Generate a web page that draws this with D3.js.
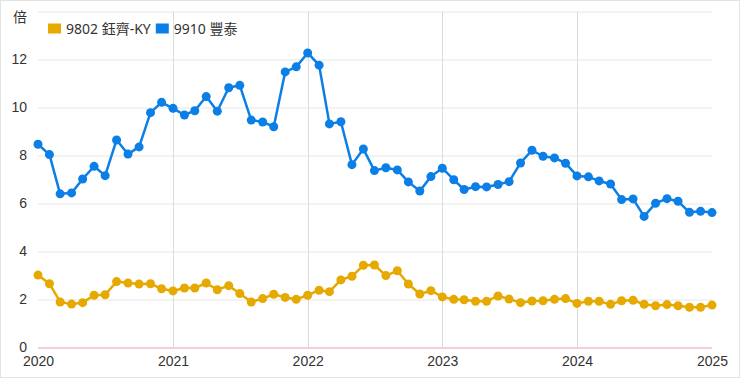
<!DOCTYPE html>
<html>
<head>
<meta charset="utf-8">
<script src="https://cdn.jsdelivr.net/npm/d3@7"></script>
<style>
  body { margin: 0; background: #fff; }
  svg { display: block; font-family: "Noto Sans", "Noto Sans CJK TC", sans-serif; }
</style>
</head>
<body>
<div class="chart"></div>
<script>
// monthly PE ratio, Jan 2020 .. Jan 2025
var startMonth = new Date(2020, 0, 1);
var yearTicks = [2020, 2021, 2022, 2023, 2024, 2025];
var yTicks = [0, 2, 4, 6, 8, 10, 12];
var seriesNames = ["9802 鈺齊-KY", "9910 豐泰"];
var seriesColors = ["#e6a900", "#0b7fe6"];

var yuChi = [3.00, 2.64, 1.88, 1.79, 1.85, 2.16, 2.18, 2.73, 2.67, 2.63, 2.64, 2.43,
  2.34, 2.46, 2.46, 2.67, 2.39, 2.56, 2.23, 1.88, 2.02, 2.20, 2.07, 1.99,
  2.16, 2.37, 2.31, 2.80, 2.95, 3.41, 3.42, 2.98, 3.18, 2.63, 2.21, 2.35,
  2.09, 1.99, 1.97, 1.91, 1.91, 2.13, 2.00, 1.85, 1.92, 1.93, 1.99, 2.02,
  1.82, 1.91, 1.91, 1.78, 1.93, 1.95, 1.78, 1.72, 1.77, 1.72, 1.66, 1.66,
  1.75];
var fengTai = [8.46, 8.03, 6.39, 6.43, 7.01, 7.54, 7.15, 8.64, 8.05, 8.35, 9.78, 10.21,
  9.96, 9.68, 9.86, 10.45, 9.84, 10.82, 10.92, 9.47, 9.39, 9.19, 11.48, 11.69,
  12.27, 11.76, 9.31, 9.40, 7.61, 8.26, 7.36, 7.48, 7.39, 6.89, 6.51, 7.11,
  7.46, 6.98, 6.57, 6.69, 6.68, 6.78, 6.90, 7.68, 8.21, 7.96, 7.89, 7.67,
  7.14, 7.10, 6.93, 6.80, 6.15, 6.18, 5.45, 6.00, 6.19, 6.08, 5.62, 5.66,
  5.61];

var W = 740, H = 378;
var margin = {top: 11.5, right: 28, bottom: 31, left: 38};
var width = W - margin.left - margin.right,
    height = H - margin.top - margin.bottom;

var x = d3.scaleTime()
  .domain([new Date(2020, 0, 1), new Date(2025, 0, 1)])
  .range([0, width]);
var y = d3.scaleLinear()
  .domain([0, 14])
  .range([height, 0]);

function monthDate(i) { return d3.timeMonth.offset(startMonth, i); }

var svg = d3.select(".chart").append("svg")
  .attr("width", W)
  .attr("height", H);

// outer frame
svg.append("rect")
  .attr("x", 0.5).attr("y", 0.5)
  .attr("width", W - 1).attr("height", H - 1)
  .attr("fill", "none")
  .attr("stroke", "#e3e3e3");

var g = svg.append("g")
  .attr("transform", "translate(" + margin.left + "," + margin.top + ")");

// horizontal grid
g.selectAll(".hgrid")
  .data([2, 4, 6, 8, 10, 12, 14])
  .enter().append("line")
  .attr("x1", 0).attr("x2", width)
  .attr("y1", d => Math.round(y(d)) + 0.5)
  .attr("y2", d => Math.round(y(d)) + 0.5)
  .attr("stroke", "#e6e6e6");

// vertical year lines
g.selectAll(".vgrid")
  .data(yearTicks.slice(1, -1))
  .enter().append("line")
  .attr("x1", d => Math.round(x(new Date(d, 0, 1))) + 0.5)
  .attr("x2", d => Math.round(x(new Date(d, 0, 1))) + 0.5)
  .attr("y1", y(14)).attr("y2", height)
  .attr("stroke", "#dcdcdc");

// zero line
g.append("line")
  .attr("x1", 0).attr("x2", width)
  .attr("y1", Math.round(y(0)) + 0.5).attr("y2", Math.round(y(0)) + 0.5)
  .attr("stroke", "#f2bcc6")
  .attr("stroke-width", 1.5);

// y axis labels
var yAxis = g.append("g")
  .call(d3.axisLeft(y).tickValues(yTicks).tickSize(0).tickPadding(11).tickFormat(d3.format("d")));
yAxis.select(".domain").remove();
yAxis.selectAll("text").attr("fill", "#333").style("font-size", "14px");

// x axis labels
var xAxis = g.append("g")
  .attr("transform", "translate(0," + height + ")")
  .call(d3.axisBottom(x).tickValues(yearTicks.map(d => new Date(d, 0, 1))).tickSize(0).tickPadding(9).tickFormat(d3.timeFormat("%Y")));
xAxis.select(".domain").remove();
xAxis.selectAll("text").attr("fill", "#333").style("font-size", "14px");

// unit
svg.append("text")
  .attr("x", 27).attr("y", 22)
  .attr("text-anchor", "end")
  .attr("fill", "#333")
  .style("font-size", "14px")
  .text("倍");

var line = d3.line()
  .x((d, i) => x(monthDate(i)))
  .y(d => y(d));

[yuChi, fengTai].forEach(function(values, k) {
  g.append("path")
    .datum(values)
    .attr("fill", "none")
    .attr("stroke", seriesColors[k])
    .attr("stroke-width", 2.5)
    .attr("stroke-linejoin", "round")
    .attr("d", line);
  g.selectAll(".dot" + k)
    .data(values)
    .enter().append("circle")
    .attr("cx", (d, i) => x(monthDate(i)))
    .attr("cy", d => y(d))
    .attr("r", 4.5)
    .attr("fill", seriesColors[k]);
});

// legend
var lx = 48;
seriesNames.forEach(function(name, k) {
  svg.append("rect")
    .attr("x", lx).attr("y", 23.5)
    .attr("width", 13).attr("height", 10)
    .attr("fill", seriesColors[k]);
  var t = svg.append("text")
    .attr("x", lx + 18).attr("y", 34)
    .attr("fill", "#333")
    .style("font-size", "14px")
    .text(name);
  lx += 18 + t.node().getComputedTextLength() + 5;
});
</script>
</body>
</html>
